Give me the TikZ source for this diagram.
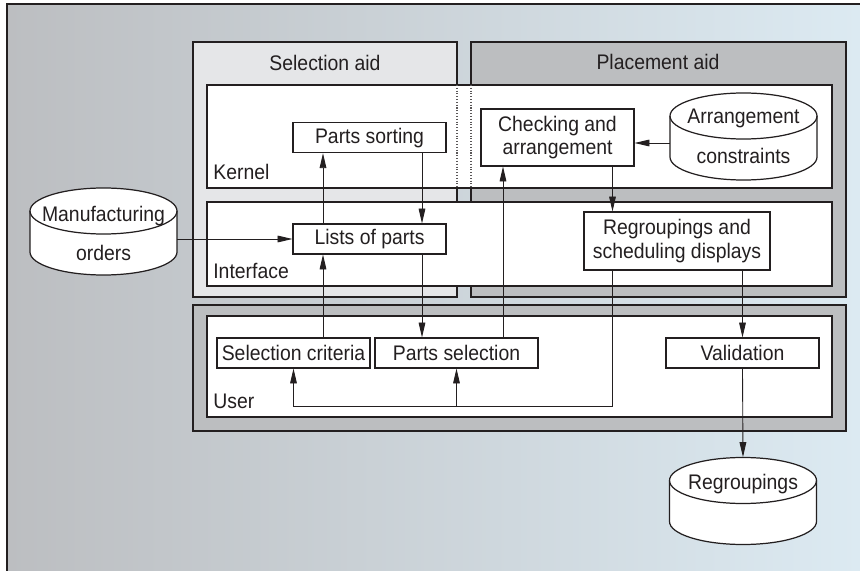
\documentclass[tikz,border=0pt]{standalone}
\usepackage{fontspec}
\setmainfont{Liberation Sans}[FakeStretch=0.92]
\definecolor{inkline}{RGB}{35,31,32}
\definecolor{bgleft}{RGB}{188,190,193}
\definecolor{bgright}{RGB}{220,234,242}
\definecolor{aidlight}{RGB}{229,230,232}
\definecolor{aiddark}{RGB}{188,190,192}
\usetikzlibrary{arrows.meta, calc}

% cylinder store: name, x, y, text
\newcommand{\drum}[4]{%
  \begin{scope}[shift={(#2,#3)}]
    \filldraw[drumline, fill=white] (-73.5,-20.5) -- (-73.5,20.5)
      arc[start angle=180, end angle=0, x radius=73.5, y radius=23] -- (73.5,-20.5)
      arc[start angle=0, end angle=-180, x radius=73.5, y radius=23] -- cycle;
    \draw[drumline] (-73.5,-20.5) arc[start angle=180, end angle=0, x radius=73.5, y radius=23];
  \end{scope}
  \node[drum] (#1) at (#2,#3) {#4};
}

\begin{document}
\begin{tikzpicture}[
  x=0.02cm, y=-0.02cm,
  txt/.style={text=inkline, font=\fontsize{12}{13.5}\selectfont},
  proc/.style={txt, draw=inkline, fill=white, line width=0.6pt, minimum height=0.6cm, inner sep=0pt, align=center},
  drum/.style={txt, minimum width=2.94cm, minimum height=1.74cm, inner sep=0pt, align=center},
  drumline/.style={draw=inkline, line width=0.7pt},
  tag/.style={txt, inner sep=0pt},
  aidbox/.style={draw=inkline, line width=0.7pt},
  band/.style={draw=inkline, fill=white, line width=0.7pt},
  seam/.style={draw=inkline!75, line width=0.6pt, densely dotted},
  flow/.style={draw=inkline, line width=0.5pt, -{Triangle[length=8.5pt,width=3.8pt]}},
]
  \useasboundingbox (0,0) rectangle (860,571);
  \shade[left color=bgleft, right color=bgright] (7,4) rectangle (860,571);
  \draw[aidbox] (860,4) -- (7,4) -- (7,571);

  % aids and layers
  \filldraw[aidbox, fill=aidlight] (193,42) rectangle (457,297);
  \filldraw[aidbox, fill=aiddark] (471,42) rectangle (846,297);
  \filldraw[aidbox, fill=aiddark] (193,305) rectangle (846,431);
  \filldraw[band] (207,85) rectangle (832,188);
  \filldraw[band] (207,202) rectangle (832,286);
  \filldraw[band] (207,316) rectangle (832,417);
  \draw[seam] (457,85) -- (457,188);
  \draw[seam] (471,85) -- (471,188);

  \node[tag, anchor=base] (selaid) at (325,71) {Selection aid};
  \node[tag, anchor=base] (placaid) at (658,70) {Placement aid};
  \node[tag, anchor=base west] (kern) at (213,180) {Kernel};
  \node[tag, anchor=base west] (intf) at (213,278) {Interface};
  \node[tag, anchor=base west] (usr) at (213,409) {User};

  % processes
  \node[proc, minimum width=3.06cm] (sort) at (369.5,137.7) {Parts sorting};
  \node[proc, minimum width=3.06cm] (lists) at (369.5,239) {Lists of parts};
  \node[proc, minimum width=3.06cm, minimum height=1.14cm] (chk) at (557.5,137.5) {Checking and\\arrangement};
  \node[proc, minimum width=3.72cm, minimum height=1.16cm] (rsd) at (677,241) {Regroupings and\\scheduling displays};
  \node[proc, minimum width=3.06cm] (crit) at (293.5,353) {Selection criteria};
  \node[proc, minimum width=3.26cm] (psel) at (456.5,353) {Parts selection};
  \node[proc, minimum width=3.06cm] (valid) at (742.5,353) {Validation};

  % stores
  \drum{mfg}{103.5}{231.5}{\rule{0pt}{11pt}Manufacturing\\[9pt]orders}
  \drum{cons}{743.5}{136.5}{Arrangement\\[9pt]constraints}
  \drum{rgp}{743}{501}{Regroupings\\[8pt]\mbox{}}

  \coordinate (c1) at (323,0);
  \coordinate (c2) at (422,0);
  \coordinate (c3) at (503,0);
  \coordinate (c4) at (612.5,0);
  \coordinate (r1) at (0,143);
  \coordinate (r2) at (0,406);

  \draw[flow] (mfg.east |- lists.west) -- (lists.west);
  \draw[flow] (lists.north -| c1) -- (sort.south -| c1);
  \draw[flow] (sort.south -| c2) -- (lists.north -| c2);
  \draw[flow] (crit.north -| c1) -- (lists.south -| c1);
  \draw[flow] (lists.south -| c2) -- (psel.north -| c2);
  \draw[flow] (psel.north -| c3) -- (chk.south -| c3);
  \draw[flow] (cons.west |- r1) -- (chk.east |- r1);
  \draw[flow] (chk.south -| c4) -- (rsd.north -| c4);
  \draw[flow] (rsd.south -| valid.north) -- (valid.north);
  \draw[flow] (rsd.south -| c4) -- (c4 |- r2) -- (crit |- r2) -- (crit.south);
  \draw[flow] (psel |- r2) -- (psel.south);
  \draw[flow] (valid.south) -- (rgp.north);
\end{tikzpicture}
\end{document}
